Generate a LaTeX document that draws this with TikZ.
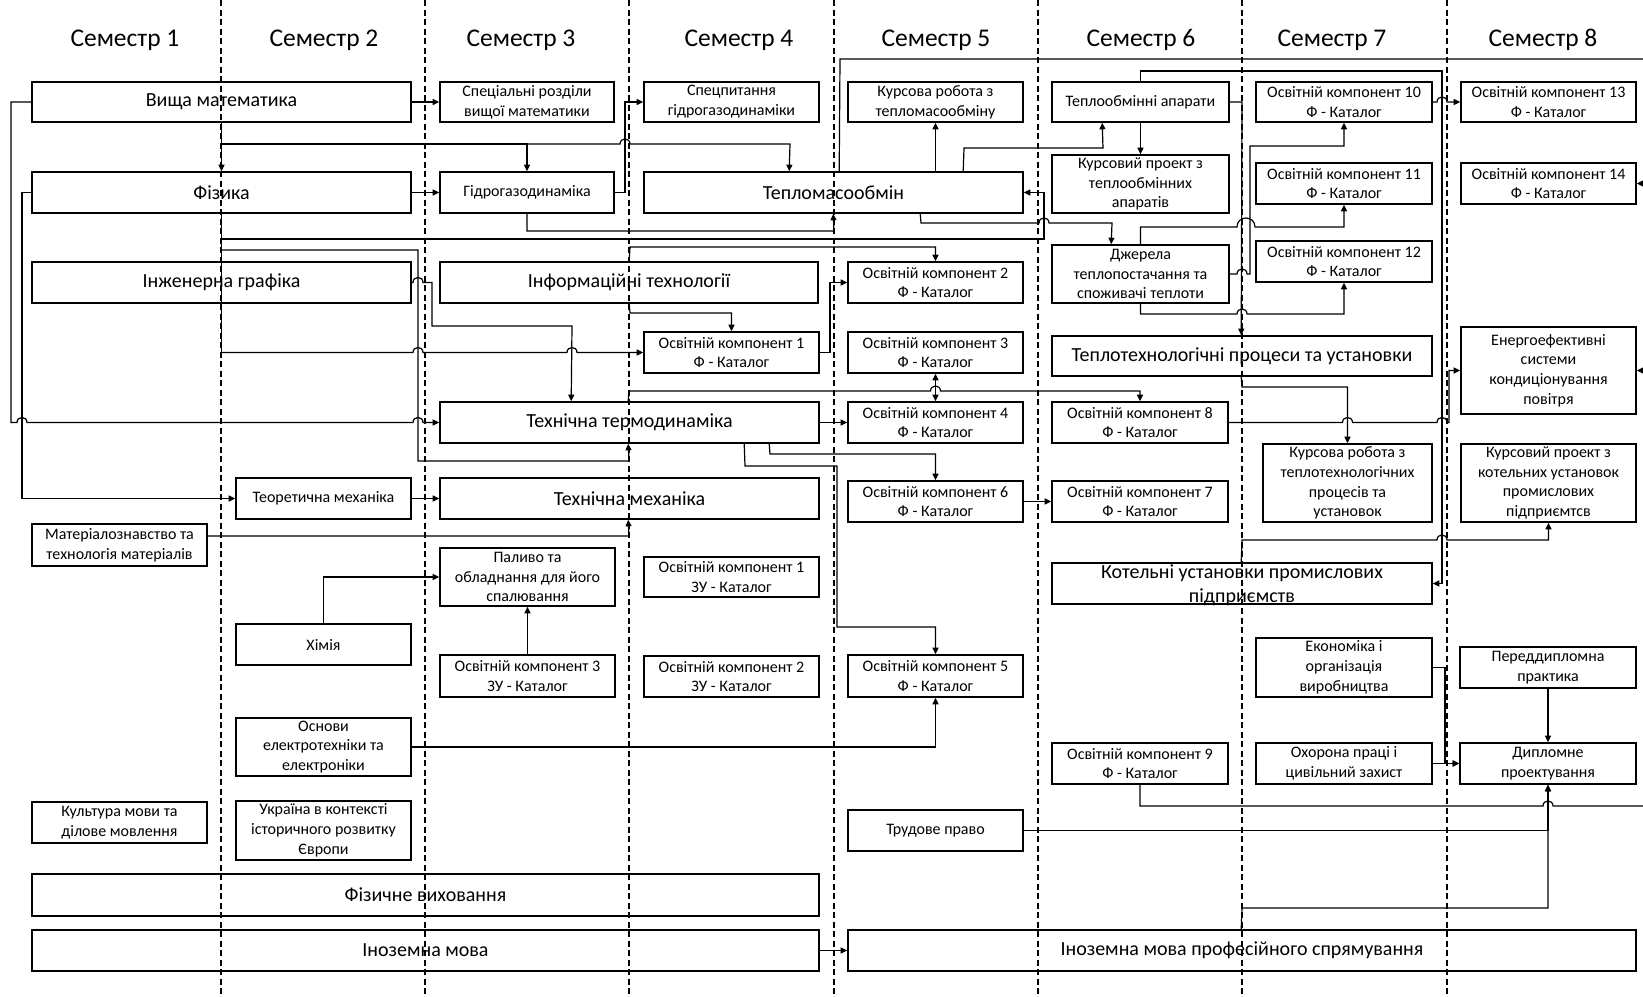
\documentclass[tikz,border=0pt]{standalone}
\usepackage{fontspec}
\setmainfont{Carlito}
\usetikzlibrary{arrows.meta}
\newcommand\fs{\fontsize{16}{19.8}\selectfont}
\newcommand\fb{\fontsize{20}{24}\selectfont}
\newcommand\fh{\fontsize{25.5}{30}\selectfont}
\newcommand\hp[2]{-- ({#1-5},#2) .. controls ({#1-5},{#2-6.7}) and ({#1+5},{#2-6.7}) .. ({#1+5},#2)}
\newcommand\hpw[3]{-- ({#1-#3},#2) .. controls ({#1-#3},{#2-1.33*#3}) and ({#1+#3},{#2-1.33*#3}) .. ({#1+#3},#2)}
\newcommand\B[7]{\node[bx,font=#6,minimum width={#4pt-#2pt},minimum height={#5pt-#3pt}] (#1) at ({(#2+#4)/2},{(#3+#5)/2}) {#7};}
\tikzset{
  bx/.style={draw, line width=1.6pt, inner sep=0pt, align=center},
  cn/.style={line width=1.2pt},
  arr/.style={cn, -{Triangle[length=6.5pt,width=6pt]}},
  arrb/.style={cn, {Triangle[length=6.5pt,width=6pt]}-{Triangle[length=6.5pt,width=6pt]}},
  sem/.style={font=\fh},
  dl/.style={line width=1.1pt, dash pattern=on 6pt off 3.5pt}
}
\begin{document}
\begin{tikzpicture}[x=1pt,y=-1pt]
\useasboundingbox (0,0) rectangle (1643,996);
\fill[white] (0,0) rectangle (1643,996);
% semester headers
\node[sem] (h1) at (125,40) {Семестр 1};
\node[sem] (h2) at (324,40) {Семестр 2};
\node[sem] (h3) at (521,40) {Семестр 3};
\node[sem] (h4) at (739,40) {Семестр 4};
\node[sem] (h5) at (936,40) {Семестр 5};
\node[sem] (h6) at (1141,40) {Семестр 6};
\node[sem] (h7) at (1332,40) {Семестр 7};
\node[sem] (h8) at (1543,40) {Семестр 8};
% dashed separators
\foreach \xx in {221,425,629,834,1038,1242,1447} \draw[dl] (\xx,0) -- (\xx,996);
% boxes
\B{vm}{32}{82}{411}{122}{\fb}{Вища математика}
\B{fiz}{32}{172}{411}{213}{\fb}{Фізика}
\B{ig}{32}{262}{411}{303}{\fb}{Інженерна графіка}
\B{mat}{32}{524}{207}{566}{\fs}{Матеріалознавство та\\технологія матеріалів}
\B{kult}{32}{802}{207}{843}{\fs}{Культура мови та\\ділове мовлення}
\B{fv}{32}{874}{819}{916}{\fb}{Фізичне виховання}
\B{im}{32}{930}{819}{971}{\fb}{Іноземна мова}
\B{tm}{236}{478}{411}{519}{\fs}{Теоретична механіка}
\B{him}{236}{624}{411}{665}{\fs}{Хімія}
\B{oe}{236}{718}{411}{776}{\fs}{Основи\\електротехніки та\\електроніки}
\B{ukr}{236}{801}{411}{860}{\fs}{Україна в контексті\\історичного розвитку\\Європи}
\B{srvm}{440}{82}{614}{122}{\fs}{Спеціальні розділи\\вищої математики}
\B{hgd}{440}{172}{614}{213}{\fs}{Гідрогазодинаміка}
\B{it}{440}{262}{818}{303}{\fb}{Інформаційні технології}
\B{tt}{440}{402}{819}{443}{\fb}{Технічна термодинаміка}
\B{tmex}{440}{478}{819}{519}{\fb}{Технічна механіка}
\B{pal}{440}{548}{615}{606}{\fs}{Паливо та\\обладнання для його\\спалювання}
\B{okzu3}{440}{655}{615}{697}{\fs}{Освітній компонент 3\\ЗУ - Каталог}
\B{sphgd}{644}{82}{819}{122}{\fs}{Спецпитання\\гідрогазодинаміки}
\B{tmo}{644}{172}{1023}{213}{\fb}{Тепломасообмін}
\B{ok1}{644}{332}{819}{373}{\fs}{Освітній компонент 1\\Ф - Каталог}
\B{okzu1}{644}{557}{819}{597}{\fs}{Освітній компонент 1\\ЗУ - Каталог}
\B{okzu2}{644}{656}{819}{697}{\fs}{Освітній компонент 2\\ЗУ - Каталог}
\B{krtmo}{848}{82}{1023}{122}{\fs}{Курсова робота з\\тепломасообміну}
\B{ok2}{848}{262}{1023}{303}{\fs}{Освітній компонент 2\\Ф - Каталог}
\B{ok3}{848}{332}{1023}{373}{\fs}{Освітній компонент 3\\Ф - Каталог}
\B{ok4}{848}{402}{1023}{443}{\fs}{Освітній компонент 4\\Ф - Каталог}
\B{ok6}{848}{481}{1023}{522}{\fs}{Освітній компонент 6\\Ф - Каталог}
\B{ok5}{848}{655}{1023}{697}{\fs}{Освітній компонент 5\\Ф - Каталог}
\B{tp}{848}{810}{1023}{851}{\fs}{Трудове право}
\B{imps}{848}{930}{1636}{971}{\fb}{Іноземна мова професійного спрямування}
\B{toa}{1052}{82}{1229}{122}{\fs}{Теплообмінні апарати}
\B{kpto}{1052}{155}{1229}{213}{\fs}{Курсовий проект з\\теплообмінних\\апаратів}
\B{dzh}{1052}{245}{1229}{303}{\fs}{Джерела\\теплопостачання та\\споживачі теплоти}
\B{ttpu}{1052}{336}{1432}{376}{\fb}{Теплотехнологічні процеси та установки}
\B{ok8}{1052}{402}{1228}{443}{\fs}{Освітній компонент 8\\Ф - Каталог}
\B{ok7}{1052}{481}{1228}{522}{\fs}{Освітній компонент 7\\Ф - Каталог}
\B{kup}{1052}{563}{1432}{604}{\fb}{}
\node[font=\fb, align=center, inner sep=0pt] (kupt) at ([yshift=-1.5pt]kup.center) {Котельні установки промислових\\підприємств};
\B{ok9}{1052}{743}{1228}{784}{\fs}{Освітній компонент 9\\Ф - Каталог}
\B{ok10}{1256}{82}{1432}{122}{\fs}{Освітній компонент 10\\Ф - Каталог}
\B{ok11}{1256}{163}{1432}{204}{\fs}{Освітній компонент 11\\Ф - Каталог}
\B{ok12}{1256}{241}{1432}{282}{\fs}{Освітній компонент 12\\Ф - Каталог}
\B{krtpu}{1263}{444}{1432}{522}{\fs}{Курсова робота з\\теплотехнологічних\\процесів та\\установок}
\B{eko}{1256}{638}{1432}{697}{\fs}{Економіка і\\організація\\виробництва}
\B{ohp}{1256}{743}{1432}{784}{\fs}{Охорона праці і\\цивільний захист}
\B{ok13}{1461}{82}{1636}{122}{\fs}{Освітній компонент 13\\Ф - Каталог}
\B{ok14}{1461}{163}{1636}{204}{\fs}{Освітній компонент 14\\Ф - Каталог}
\B{eesk}{1461}{327}{1636}{414}{\fs}{Енергоефективні\\системи\\кондиціонування\\повітря}
\B{kpku}{1461}{444}{1636}{522}{\fs}{Курсовий проект з\\котельних установок\\промислових\\підприємтсв}
\B{pdp}{1460}{647}{1636}{688}{\fs}{Переддипломна\\практика}
\B{dp}{1460}{743}{1636}{784}{\fs}{Дипломне\\проектування}
% connectors, semester 1-2
\draw[arr] (vm.west) -- (11,102) -- (11,422.5) \hp{22}{422.5} \hp{418}{422.5} -- (tt.west);
\draw[arr] (fiz.west) -- (22,192.5) -- (22,498.5) -- (tm.west);
\draw[arr] (vm.south) -- (fiz.north);
\draw[arr] (221.5,144) -| (hgd.north);
\draw[arr] (527,144) \hp{625}{144} -- (790,144) -- ([xshift=146pt]tmo.north west);
\draw[arr] (vm.east) -- (srvm.west);
\draw[arr] (fiz.east) -- (hgd.west);
\draw[cn] (fiz.south) -- (221.5,352.5);
\draw[arr] (221.5,239) -- (1044,239) |- (tmo.east);
\draw[arr] (221.5,250) -- (418,250) -- (418,461) -- (629,461) -- ([xshift=189pt]tt.south west);
\draw[arr] (221.5,352.5) \hp{418}{352.5} \hp{572}{352.5} -- (ok1.west);
\draw[arr] (ig.east) \hp{418}{282.5} -- (432,282.5) -- (432,326) -- (572,326) -- ([xshift=132pt]tt.north west);
\draw[arr] (tm.east) -- (tmex.west);
\draw[arr] ([yshift=9pt]mat.east) -- (629,536) -- ([xshift=189pt]tmex.south west);
\draw[arr] (him.north) |- (pal.west);
\draw[arr] (okzu3.north) -- (pal.south);
\draw[arr] (oe.east) -| (ok5.south);
\draw[arr] (im.east) -- (imps.west);
% semester 3-4
\draw[arr] (hgd.east) -- (625,192.5) |- (sphgd.west);
\draw[arr] (hgd.south) -- (527,231) -- (834,231) -- ([xshift=190pt]tmo.south west);
\draw[arr] ([xshift=190pt]it.north west) -- (630,247) -- (935.5,247) -- (ok2.north);
\draw[arr] ([xshift=190pt]it.south west) -- (630,313) -- (731.5,313) -- (ok1.north);
\draw[arr] (ok1.east) -- (830,352.5) |- (ok2.west);
\draw[arr] (tt.east) -- (ok4.west);
\draw[arr] ([xshift=189pt]tt.north west) -- (629,391) \hp{935.5}{391} -- (1140,391) -- (ok8.north);
\draw[arrb] (ok3.south) -- (ok4.north);
\draw[arr] ([xshift=330pt]tt.south west) -- (770,454) -- (935.5,454) -- (ok6.north);
\draw[arr] ([xshift=305pt]tt.south west) -- (745,466) -- (837,466) -- (837,627) -- (935.5,627) -- (ok5.north);
\draw[arr] (ok6.east) -- (ok7.west);
% semester 5
\draw[arr] (krtmo.south |- tmo.north) -- (krtmo.south);
\draw[arr] ([xshift=320pt]tmo.north west) -- (964,148) -- (1103,148) -- ([xshift=51pt]toa.south west);
\draw[arr] ([xshift=277pt]tmo.south west) -- (921,223) \hp{1044}{223} -- (1112,223) -- ([xshift=60pt]dzh.north west);
\draw[cn] ([xshift=196pt]tmo.north west) -- (840,59) -- (1643,59);
% semester 6-8
\draw[arr] (toa.south) -- (kpto.north);
\draw[arr] (toa.north) -- (1140.5,71) -- (1442,71) -- (1442,583.5) -- (kup.east);
\draw[arr] (toa.east) -- (1242,102) -- ([xshift=190pt]ttpu.north west);
\draw[arr] (dzh.north) -- (1140.5,227) \hpw{1246}{227}{9} -- (1344,227) -- (ok11.south);
\draw[arr] (dzh.east) \hp{1242}{274} -- (1250,274) -- (1250,146) -- (1344,146) -- (ok10.south);
\draw[arr] (dzh.south) -- (1140.5,314) \hp{1242}{314} -- (1344,314) -- (ok12.south);
\draw[arr] ([xshift=190pt]ttpu.south west) -- (1242,387) -- (1347.5,387) -- (krtpu.north);
\draw[arr] (ok8.east) \hp{1347.5}{422.5} \hp{1442}{422.5} -- (1449,422.5) |- (eesk.west);
\draw[arr] (ok10.east) \hp{1442}{102} -- (ok13.west);
\draw[arr] ([xshift=190pt]kup.north west) -- (1242,540) \hp{1442}{540} -- (1548.5,540) -- (kpku.south);
\draw[arr] (eko.east) -- (1445,667.5) |- (dp.west);
\draw[arr] (ohp.east) -- (dp.west);
\draw[arr] (pdp.south) -- (dp.north);
\draw[cn] (ok9.south) -- (1140,806) \hp{1548}{806} -- (1643,806);
\draw[arr] (tp.east) -- (1548,830.5) -- (dp.south);
\draw[arr] ([xshift=394pt]imps.north west) -- (1242,908) -| (dp.south);
\draw[arr] (1643,183.5) -- (ok14.east);
\draw[arr] (1643,370.5) -- (eesk.east);
\end{tikzpicture}
\end{document}
